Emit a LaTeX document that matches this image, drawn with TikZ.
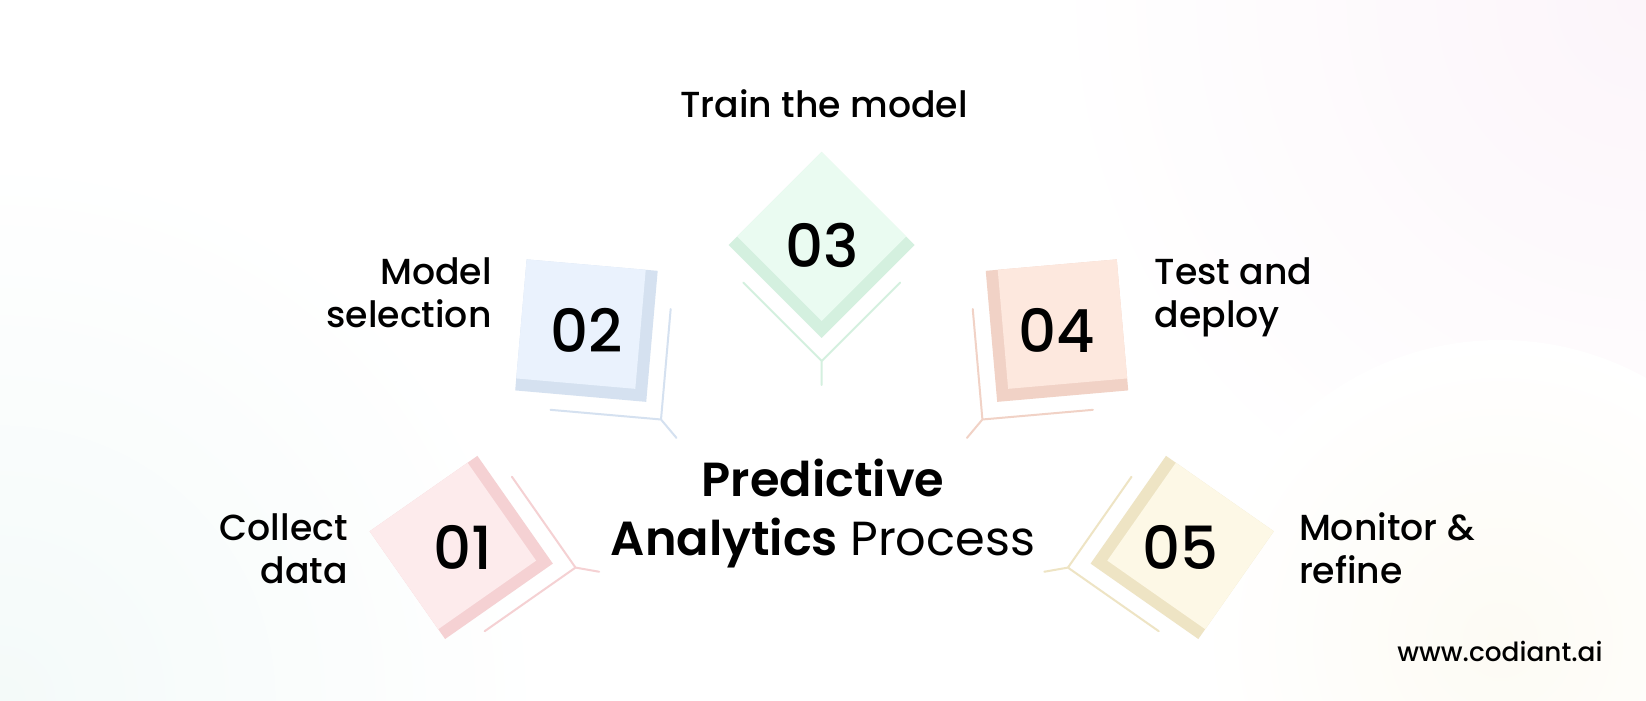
\documentclass[tikz,border=0pt]{standalone}
\usepackage{fontspec}
\setmainfont{Poppins}[UprightFont=* Medium, BoldFont=* SemiBold]
\newfontfamily\popreg{Poppins}
\definecolor{faceA}{HTML}{FDEBEC}
\definecolor{shadeA}{HTML}{F5D1D3}
\definecolor{faceB}{HTML}{EAF2FD}
\definecolor{shadeB}{HTML}{D5E1F0}
\definecolor{faceC}{HTML}{EAFBF1}
\definecolor{shadeC}{HTML}{D4F0DF}
\definecolor{faceD}{HTML}{FDE8DE}
\definecolor{shadeD}{HTML}{F1D2C6}
\definecolor{faceE}{HTML}{FDF8E6}
\definecolor{shadeE}{HTML}{EEE4C4}
\definecolor{bgpink}{HTML}{FCF5FA}
\definecolor{bgmint}{HTML}{F4FAF9}
\definecolor{bgcream}{HTML}{FDFBF4}

\begin{document}
\begin{tikzpicture}[x=0.01cm,y=0.01cm,
  stepnum/.style={font=\fontsize{16.9}{20}\selectfont},
  steplabel/.style={font=\fontsize{10.3}{12.3}\selectfont, inner sep=0pt},
  bracket/.style={line width=0.02cm, line cap=round}]
   \useasboundingbox (0,0) rectangle (1646,700);
   % background
   \begin{scope}
    \clip (0,0) rectangle (1646,700);
    \fill[white] (0,0) rectangle (1646,700);
    \shade[inner color=bgpink, outer color=white] (1646,700) circle (600);
    \shade[inner color=bgmint, outer color=white] (0,0) circle (550);
    \shade[inner color=bgcream, outer color=white] (1500,60) circle (300);
   \end{scope}
   \coordinate (hub) at (821.7,89);
   % 01
   \begin{scope}[shift={(hub)}, rotate=80]
    \fill[shadeA] (0,273) -- (93,366) -- (0,459) -- (-93,366) -- cycle;
    \fill[faceA] (0,290) -- (84.5,374.5) -- (0,459) -- (-84.5,374.5) -- cycle;
    \draw[bracket, shadeA] (-78.4,328.4) -- (0,250) -- (78.4,328.4) (0,250) -- (0,226);
    \node[stepnum] (n1) at (0,364) {01};
   \end{scope}
   % 02
   \begin{scope}[shift={(hub)}, rotate=40]
    \fill[shadeB] (0,273) -- (93,366) -- (0,459) -- (-93,366) -- cycle;
    \fill[faceB] (0,290) -- (84.5,374.5) -- (0,459) -- (-84.5,374.5) -- cycle;
    \draw[bracket, shadeB] (-78.4,328.4) -- (0,250) -- (78.4,328.4) (0,250) -- (0,226);
    \node[stepnum] (n2) at (0,366) {02};
   \end{scope}
   % 03
   \begin{scope}[shift={(hub)}]
    \fill[shadeC] (0,273) -- (93,366) -- (0,459) -- (-93,366) -- cycle;
    \fill[faceC] (0,290) -- (84.5,374.5) -- (0,459) -- (-84.5,374.5) -- cycle;
    \draw[bracket, shadeC] (-78.4,328.4) -- (0,250) -- (78.4,328.4) (0,250) -- (0,226);
    \node[stepnum] (n3) at (0,366) {03};
   \end{scope}
   % 04
   \begin{scope}[shift={(hub)}, rotate=-40]
    \fill[shadeD] (0,273) -- (93,366) -- (0,459) -- (-93,366) -- cycle;
    \fill[faceD] (0,290) -- (84.5,374.5) -- (0,459) -- (-84.5,374.5) -- cycle;
    \draw[bracket, shadeD] (-78.4,328.4) -- (0,250) -- (78.4,328.4) (0,250) -- (0,226);
    \node[stepnum] (n4) at (0,366) {04};
   \end{scope}
   % 05
   \begin{scope}[shift={(hub)}, rotate=-80]
    \fill[shadeE] (0,273) -- (93,366) -- (0,459) -- (-93,366) -- cycle;
    \fill[faceE] (0,290) -- (84.5,374.5) -- (0,459) -- (-84.5,374.5) -- cycle;
    \draw[bracket, shadeE] (-78.4,328.4) -- (0,250) -- (78.4,328.4) (0,250) -- (0,226);
    \node[stepnum] (n5) at (0,364) {05};
   \end{scope}
   % labels
   \node[steplabel, align=right, anchor=base east] (l1) at (348.3,116.7) {Collect\\data};
   \node[steplabel, align=right, anchor=base east] (l2) at (492.3,372.7) {Model\\selection};
   \node[steplabel, anchor=base] (l3) at (824,582.3) {Train the model};
   \node[steplabel, align=left, anchor=base west] (l4) at (1154,372.7) {Test and\\deploy};
   \node[steplabel, align=left, anchor=base west] (l5) at (1298.3,116.7) {Monitor \&\\refine};
   \node[align=center, anchor=base, inner sep=0pt, font=\fontsize{13.6}{16.6}\selectfont]
     (title) at (823,145) {\textbf{Predictive}\\\textbf{Analytics} {\popreg Process}};
   \node[anchor=base west, inner sep=0pt, font=\fontsize{7.5}{9}\selectfont] (site) at (1396.7,38.3) {www.codiant.ai};
\end{tikzpicture}
\end{document}
